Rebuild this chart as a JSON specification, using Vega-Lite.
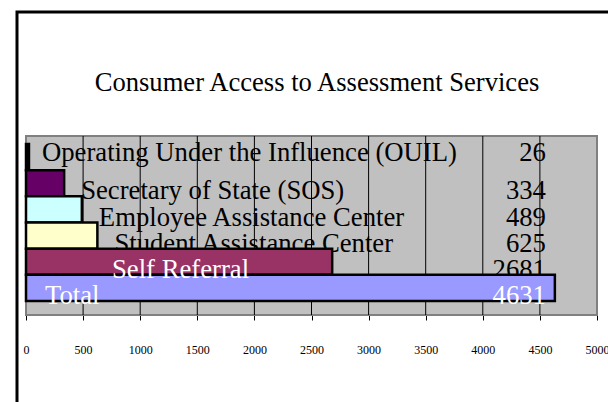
{
  "$schema": "https://vega.github.io/schema/vega-lite/v6.json",
  "width": 600,
  "height": 400,
  "autosize": "none",
  "padding": {"left": 17, "top": 12, "right": 0, "bottom": 0},
  "background": "white",
  "title": {
    "text": "Consumer Access to Assessment Services",
    "font": "Liberation Serif",
    "fontSize": 26.6,
    "fontWeight": "normal",
    "color": "black",
    "anchor": "middle",
    "frame": "group",
    "baseline": "alphabetic",
    "offset": -106
  },
  "data": {
    "values": [
      {"category": "Operating Under the Influence (OUIL)", "count": 26},
      {"category": "Secretary of State (SOS)", "count": 334},
      {"category": "Employee Assistance Center", "count": 489},
      {"category": "Student Assistance Center", "count": 625},
      {"category": "Self Referral", "count": 2681},
      {"category": "Total", "count": 4631}
    ]
  },
  "resolve": {"scale": {"y": "independent"}},
  "layer": [
    {
      "layer": [
        {
          "data": {"values": [{"area": "plot"}]},
          "mark": {"type": "rect", "fill": "#C0C0C0", "stroke": "#808080", "strokeWidth": 2},
          "encoding": {
            "x": {"datum": 0, "type": "quantitative", "title": null, "scale": {"domain": [0, 5000], "range": [9, 580], "nice": false}},
            "x2": {"datum": 5000},
            "y": {"datum": 0, "type": "quantitative", "scale": {"domain": [0, 1], "range": [124, 303], "nice": false, "zero": false}, "axis": null},
            "y2": {"datum": 1}
          }
        },
        {
          "data": {"values": [{"v": 500}, {"v": 1000}, {"v": 1500}, {"v": 2000}, {"v": 2500}, {"v": 3000}, {"v": 3500}, {"v": 4000}, {"v": 4500}]},
          "mark": {"type": "rule", "color": "#000000", "strokeWidth": 1},
          "encoding": {
            "x": {"field": "v", "type": "quantitative", "title": null, "scale": {"domain": [0, 5000], "range": [9, 580], "nice": false}},
            "y": {"datum": 0, "type": "quantitative", "scale": {"domain": [0, 1], "range": [124, 303], "nice": false, "zero": false}, "axis": null},
            "y2": {"datum": 1}
          }
        }
      ]
    },
    {
      "layer": [
        {
          "transform": [{"filter": {"field": "category", "equal": "Operating Under the Influence (OUIL)"}}],
          "mark": {"type": "text", "align": "left", "baseline": "alphabetic", "dx": 13, "dy": -9, "font": "Liberation Serif", "fontSize": 26.7, "color": "black"},
          "encoding": {
            "x": {"field": "count", "type": "quantitative", "title": null, "scale": {"domain": [0, 5000], "range": [9, 580], "nice": false}},
            "y": {"field": "category", "type": "nominal", "bandPosition": 1, "scale": {"domain": ["Operating Under the Influence (OUIL)", "Secretary of State (SOS)", "Employee Assistance Center", "Student Assistance Center", "Self Referral", "Total"], "range": [132, 289], "paddingInner": 0, "paddingOuter": 0}, "axis": null},
            "text": {"field": "category"}
          }
        },
        {
          "transform": [{"filter": {"field": "category", "equal": "Operating Under the Influence (OUIL)"}}],
          "mark": {"type": "text", "align": "right", "baseline": "alphabetic", "dy": -9, "font": "Liberation Serif", "fontSize": 26.7, "color": "black"},
          "encoding": {
            "x": {"datum": 4553, "type": "quantitative", "title": null, "scale": {"domain": [0, 5000], "range": [9, 580], "nice": false}},
            "y": {"field": "category", "type": "nominal", "bandPosition": 1, "scale": {"domain": ["Operating Under the Influence (OUIL)", "Secretary of State (SOS)", "Employee Assistance Center", "Student Assistance Center", "Self Referral", "Total"], "range": [132, 289], "paddingInner": 0, "paddingOuter": 0}, "axis": null},
            "text": {"field": "count", "type": "quantitative", "format": "d"}
          }
        },
        {
          "transform": [{"filter": {"field": "category", "oneOf": ["Secretary of State (SOS)", "Employee Assistance Center", "Student Assistance Center"]}}],
          "mark": {"type": "text", "align": "left", "baseline": "alphabetic", "dx": 17, "dy": 3, "font": "Liberation Serif", "fontSize": 26.7, "color": "black"},
          "encoding": {
            "x": {"field": "count", "type": "quantitative", "title": null, "scale": {"domain": [0, 5000], "range": [9, 580], "nice": false}},
            "y": {"field": "category", "type": "nominal", "bandPosition": 1, "scale": {"domain": ["Operating Under the Influence (OUIL)", "Secretary of State (SOS)", "Employee Assistance Center", "Student Assistance Center", "Self Referral", "Total"], "range": [132, 289], "paddingInner": 0, "paddingOuter": 0}, "axis": null},
            "text": {"field": "category"}
          }
        },
        {
          "transform": [{"filter": {"field": "category", "oneOf": ["Secretary of State (SOS)", "Employee Assistance Center", "Student Assistance Center", "Self Referral"]}}],
          "mark": {"type": "text", "align": "right", "baseline": "alphabetic", "dy": 3, "font": "Liberation Serif", "fontSize": 26.7, "color": "black"},
          "encoding": {
            "x": {"datum": 4553, "type": "quantitative", "title": null, "scale": {"domain": [0, 5000], "range": [9, 580], "nice": false}},
            "y": {"field": "category", "type": "nominal", "bandPosition": 1, "scale": {"domain": ["Operating Under the Influence (OUIL)", "Secretary of State (SOS)", "Employee Assistance Center", "Student Assistance Center", "Self Referral", "Total"], "range": [132, 289], "paddingInner": 0, "paddingOuter": 0}, "axis": null},
            "text": {"field": "count", "type": "quantitative", "format": "d"}
          }
        },
        {
          "mark": {"type": "bar", "stroke": "black", "strokeWidth": 2.5},
          "encoding": {
            "x": {
              "field": "count", "type": "quantitative", "title": null,
              "scale": {"domain": [0, 5000], "range": [9, 580], "nice": false},
              "axis": {"values": [0, 500, 1000, 1500, 2000, 2500, 3000, 3500, 4000, 4500, 5000], "format": "d"}
            },
            "y": {"field": "category", "type": "nominal", "scale": {"domain": ["Operating Under the Influence (OUIL)", "Secretary of State (SOS)", "Employee Assistance Center", "Student Assistance Center", "Self Referral", "Total"], "range": [132, 289], "paddingInner": 0, "paddingOuter": 0}, "axis": null},
            "fill": {
              "field": "category", "type": "nominal", "legend": null,
              "scale": {"domain": ["Operating Under the Influence (OUIL)", "Secretary of State (SOS)", "Employee Assistance Center", "Student Assistance Center", "Self Referral", "Total"], "range": ["#000000", "#660066", "#CCFFFF", "#FFFFCC", "#993366", "#9999FF"]}
            }
          }
        },
        {
          "transform": [{"filter": {"field": "category", "equal": "Self Referral"}}],
          "mark": {"type": "text", "align": "left", "baseline": "alphabetic", "dy": 3, "font": "Liberation Serif", "fontSize": 26.7, "color": "white"},
          "encoding": {
            "x": {"datum": 753, "type": "quantitative", "title": null, "scale": {"domain": [0, 5000], "range": [9, 580], "nice": false}},
            "y": {"field": "category", "type": "nominal", "bandPosition": 1, "scale": {"domain": ["Operating Under the Influence (OUIL)", "Secretary of State (SOS)", "Employee Assistance Center", "Student Assistance Center", "Self Referral", "Total"], "range": [132, 289], "paddingInner": 0, "paddingOuter": 0}, "axis": null},
            "text": {"field": "category"}
          }
        },
        {
          "transform": [{"filter": {"field": "category", "equal": "Total"}}],
          "mark": {"type": "text", "align": "left", "baseline": "alphabetic", "dy": 3, "font": "Liberation Serif", "fontSize": 26.7, "color": "white"},
          "encoding": {
            "x": {"datum": 166, "type": "quantitative", "title": null, "scale": {"domain": [0, 5000], "range": [9, 580], "nice": false}},
            "y": {"field": "category", "type": "nominal", "bandPosition": 1, "scale": {"domain": ["Operating Under the Influence (OUIL)", "Secretary of State (SOS)", "Employee Assistance Center", "Student Assistance Center", "Self Referral", "Total"], "range": [132, 289], "paddingInner": 0, "paddingOuter": 0}, "axis": null},
            "text": {"field": "category"}
          }
        },
        {
          "transform": [{"filter": {"field": "category", "equal": "Total"}}],
          "mark": {"type": "text", "align": "right", "baseline": "alphabetic", "dy": 3, "font": "Liberation Serif", "fontSize": 26.7, "color": "white"},
          "encoding": {
            "x": {"datum": 4553, "type": "quantitative", "title": null, "scale": {"domain": [0, 5000], "range": [9, 580], "nice": false}},
            "y": {"field": "category", "type": "nominal", "bandPosition": 1, "scale": {"domain": ["Operating Under the Influence (OUIL)", "Secretary of State (SOS)", "Employee Assistance Center", "Student Assistance Center", "Self Referral", "Total"], "range": [132, 289], "paddingInner": 0, "paddingOuter": 0}, "axis": null},
            "text": {"field": "count", "type": "quantitative", "format": "d"}
          }
        }
      ]
    }
  ],
  "config": {
    "view": {"stroke": "black", "strokeWidth": 3, "fill": "white"},
    "axisX": {
      "orient": "bottom", "offset": -97, "grid": false, "title": null,
      "domainColor": "black", "domainWidth": 1,
      "tickColor": "black", "tickSize": 5, "tickWidth": 1,
      "labelFont": "Liberation Serif", "labelFontSize": 12, "labelColor": "black",
      "labelPadding": 24, "labelFlush": false, "labelOverlap": false, "zindex": 2
    }
  }
}
